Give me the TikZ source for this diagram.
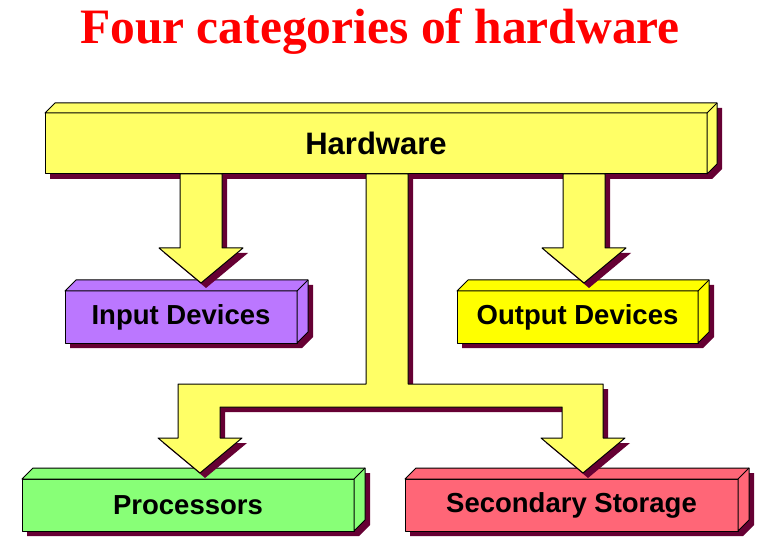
\documentclass[tikz,border=0pt]{standalone}
\usepackage{fontspec}
\setmainfont{Liberation Serif}
\setsansfont{Liberation Sans}
\usepackage{tikz}
\usetikzlibrary{calc,backgrounds}
\usepackage{xcolor}
\definecolor{titlered}{HTML}{FF0000}
\definecolor{hwyellow}{HTML}{FFFF66}
\definecolor{inpurple}{HTML}{BB77FF}
\definecolor{outyellow}{HTML}{FFFF00}
\definecolor{procgreen}{HTML}{88FF77}
\definecolor{storred}{HTML}{FF6677}
\definecolor{shadowred}{HTML}{660033}

\begin{document}
\begin{tikzpicture}[x=1pt,y=-1pt,line join=round,
  catbox/.style={draw,line width=1pt,outer sep=0pt,inner sep=0pt,font=\sffamily\bfseries\fontsize{27.5}{32}\selectfont},
  face/.style={draw,line width=1pt},
  boxshadow/.style={fill=shadowred,transform canvas={shift={(5pt,-5pt)}}},
  fatarrow/.style={draw,line width=1pt,fill=hwyellow,preaction={fill=shadowred,transform canvas={shift={(5pt,-5pt)}}}}]
\useasboundingbox (0,0) rectangle (763,545);
\node[anchor=base,text=titlered,font=\rmfamily\bfseries\fontsize{49.5}{56}\selectfont] (title) at (380,44) {Four categories of hardware};
% the boxes
\node[catbox,fill=hwyellow,minimum width=662,minimum height=61,font=\sffamily\bfseries\fontsize{31}{36}\selectfont] (hw) at (376,143.5) {Hardware};
\node[catbox,fill=inpurple,minimum width=232,minimum height=52] (inp) at (181,317) {Input Devices};
\node[catbox,fill=outyellow,minimum width=241,minimum height=52] (outp) at (577.5,317) {Output Devices};
\node[catbox,fill=procgreen,minimum width=332,minimum height=52] (proc) at (188,505) {Processors};
\node[catbox,fill=storred,minimum width=333,minimum height=52] (stor) at (571.5,505) {Secondary Storage};
% shadows
\begin{pgfonlayer}{background}
\fill[boxshadow] (hw.north west) -- ++(10,-10) -- ($(hw.north east)+(10,-10)$) -- ($(hw.south east)+(10,-10)$) -- (hw.south east) -- (hw.south west) -- cycle;
\fill[boxshadow] (inp.north west) -- ++(11,-11) -- ($(inp.north east)+(11,-11)$) -- ($(inp.south east)+(11,-11)$) -- (inp.south east) -- (inp.south west) -- cycle;
\fill[boxshadow] (outp.north west) -- ++(11,-11) -- ($(outp.north east)+(11,-11)$) -- ($(outp.south east)+(11,-11)$) -- (outp.south east) -- (outp.south west) -- cycle;
\fill[boxshadow] (proc.north west) -- ++(11,-11) -- ($(proc.north east)+(11,-11)$) -- ($(proc.south east)+(11,-11)$) -- (proc.south east) -- (proc.south west) -- cycle;
\fill[boxshadow] (stor.north west) -- ++(11,-11) -- ($(stor.north east)+(11,-11)$) -- ($(stor.south east)+(11,-11)$) -- (stor.south east) -- (stor.south west) -- cycle;
\end{pgfonlayer}
% top and side faces
\filldraw[face,fill=hwyellow] (hw.north west) -- ++(10,-10) -- ($(hw.north east)+(10,-10)$) -- ($(hw.south east)+(10,-10)$) -- (hw.south east) -- (hw.north east) -- cycle;
\draw[face] (hw.north east) -- ++(10,-10);
\filldraw[face,fill=inpurple] (inp.north west) -- ++(11,-11) -- ($(inp.north east)+(11,-11)$) -- ($(inp.south east)+(11,-11)$) -- (inp.south east) -- (inp.north east) -- cycle;
\draw[face] (inp.north east) -- ++(11,-11);
\filldraw[face,fill=outyellow] (outp.north west) -- ++(11,-11) -- ($(outp.north east)+(11,-11)$) -- ($(outp.south east)+(11,-11)$) -- (outp.south east) -- (outp.north east) -- cycle;
\draw[face] (outp.north east) -- ++(11,-11);
\filldraw[face,fill=procgreen] (proc.north west) -- ++(11,-11) -- ($(proc.north east)+(11,-11)$) -- ($(proc.south east)+(11,-11)$) -- (proc.south east) -- (proc.north east) -- cycle;
\draw[face] (proc.north east) -- ++(11,-11);
\filldraw[face,fill=storred] (stor.north west) -- ++(11,-11) -- ($(stor.north east)+(11,-11)$) -- ($(stor.south east)+(11,-11)$) -- (stor.south east) -- (stor.north east) -- cycle;
\draw[face] (stor.north east) -- ++(11,-11);
% the arrows
\coordinate (tipin) at (201,283);
\coordinate (tipout) at (584,283);
\coordinate (tipproc) at (200,473);
\coordinate (tipstor) at (583,473);
\draw[fatarrow] (tipin) -- ++(-42,-35) -- ++(21,0) -- ($(tipin |- hw.south)+(-21,0)$) -- ++(42,0) |- ($(tipin)+(42,-35)$) -- cycle;
\draw[fatarrow] (tipout) -- ++(-42,-35) -- ++(21,0) -- ($(tipout |- hw.south)+(-21,0)$) -- ++(42,0) |- ($(tipout)+(42,-35)$) -- cycle;
\draw[fatarrow] ($(hw.south)+(-10,0)$) -- ++(42,0) -- ++(0,210) -- ++(195,0) -- ++(0,54) -- ++(22,0) -- (tipstor) -- ++(-42,-35) -- ++(21,0) -- ++(0,-31) -- ++(-342,0) -- ++(0,31) -- ++(22,0) -- (tipproc) -- ++(-42,-35) -- ++(20,0) -- ++(0,-54) -- ++(188,0) -- cycle;
\end{tikzpicture}
\end{document}
